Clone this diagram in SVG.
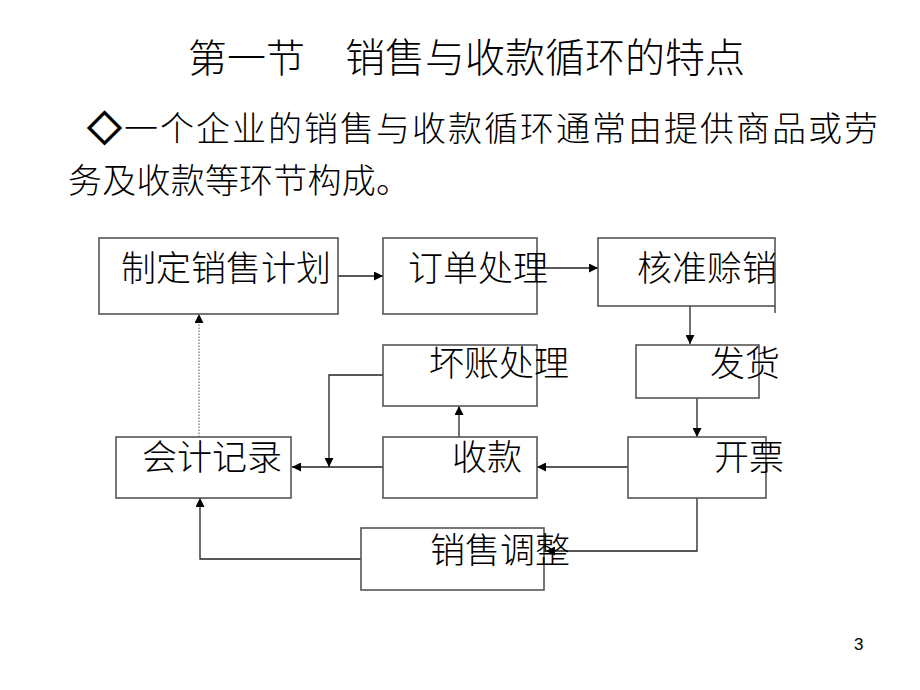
<svg xmlns="http://www.w3.org/2000/svg" width="920" height="690" viewBox="0 0 920 690">
<style>
  .bg { fill: #ffffff; }
  .box { fill: none; stroke: #555555; stroke-width: 1.6; }
  .lbl { font-family: "Noto Sans CJK SC", "Noto Sans", sans-serif; font-size: 35px; font-weight: 300; fill: #000000; }
  .head { font-family: "Noto Sans CJK SC", "Noto Sans", sans-serif; font-weight: 300; fill: #000000; }
  .conn { fill: none; stroke: #222222; stroke-width: 1.3; }
  .dot { fill: none; stroke: #555555; stroke-width: 1; stroke-dasharray: 1.5 1.5; }
  .num { font-family: "Liberation Sans", Arial, sans-serif; font-size: 17px; fill: #000000; }
</style>
<defs>
  <marker id="arr" viewBox="0 0 10 10" refX="10" refY="5" markerWidth="9" markerHeight="9" markerUnits="userSpaceOnUse" orient="auto">
    <path d="M0,0 L10,5 L0,10 Z" fill="#000000"/>
  </marker>
</defs>
<rect class="bg" x="0" y="0" width="920" height="690"/>

<g id="title">
  <text class="head" x="188" y="72" font-size="39">第一节</text>
  <text class="head" x="345" y="72" font-size="40">销售与收款循环的特点</text>
</g>
<g id="intro">
  <text class="head" x="88" y="140" font-size="33" stroke="#000000" stroke-width="2.2">◇</text>
  <text class="head" x="124" y="141" font-size="34" textLength="754" lengthAdjust="spacing">一个企业的销售与收款循环通常由提供商品或劳</text>
  <text class="head" x="68" y="193" font-size="34" textLength="342" lengthAdjust="spacing">务及收款等环节构成。</text>
</g>

<g id="connectors">
  <line class="conn" x1="338" y1="276" x2="383" y2="276" marker-end="url(#arr)"/>
  <line class="conn" x1="537" y1="268" x2="598" y2="268" marker-end="url(#arr)"/>
  <line class="conn" x1="690" y1="306" x2="690" y2="344" marker-end="url(#arr)"/>
  <line class="conn" x1="697" y1="398" x2="697" y2="437" marker-end="url(#arr)"/>
  <line class="conn" x1="628" y1="467" x2="537" y2="467" marker-end="url(#arr)"/>
  <line class="conn" x1="459" y1="437" x2="459" y2="406" marker-end="url(#arr)"/>
  <polyline class="conn" points="383,375 329,375 329,467" marker-end="url(#arr)"/>
  <line class="conn" x1="383" y1="467" x2="292" y2="467" marker-end="url(#arr)"/>
  <line class="dot" x1="199" y1="437" x2="199" y2="314" marker-end="url(#arr)"/>
  <polyline class="conn" points="697,498 697,551 546,551" marker-end="url(#arr)"/>
  <polyline class="conn" points="361,559 200,559 200,498" marker-end="url(#arr)"/>
</g>

<g id="plan">
  <rect class="box" x="99" y="238" width="239" height="76"/>
  <text class="lbl" x="121" y="281">制定销售计划</text>
</g>
<g id="order">
  <rect class="box" x="383" y="238" width="154" height="76"/>
  <text class="lbl" x="408" y="281">订单处理</text>
</g>
<g id="credit">
  <rect class="box" x="598" y="238" width="177" height="68"/>
  <line class="box" x1="775" y1="306" x2="775" y2="313"/>
  <text class="lbl" x="637" y="281">核准赊销</text>
</g>
<g id="ship">
  <rect class="box" x="636" y="345" width="123" height="53"/>
  <text class="lbl" x="710" y="376">发货</text>
</g>
<g id="invoice">
  <rect class="box" x="628" y="437" width="138" height="61"/>
  <text class="lbl" x="714" y="470">开票</text>
</g>
<g id="baddebt">
  <rect class="box" x="383" y="345" width="154" height="61"/>
  <text class="lbl" x="429" y="376">坏账处理</text>
</g>
<g id="collect">
  <rect class="box" x="383" y="437" width="154" height="61"/>
  <text class="lbl" x="452" y="470">收款</text>
</g>
<g id="account">
  <rect class="box" x="116" y="437" width="175" height="61"/>
  <text class="lbl" x="142" y="470">会计记录</text>
</g>
<g id="adjust">
  <rect class="box" x="361" y="528" width="183" height="62"/>
  <text class="lbl" x="430" y="563">销售调整</text>
</g>

<text class="num" x="854" y="650">3</text>
</svg>
